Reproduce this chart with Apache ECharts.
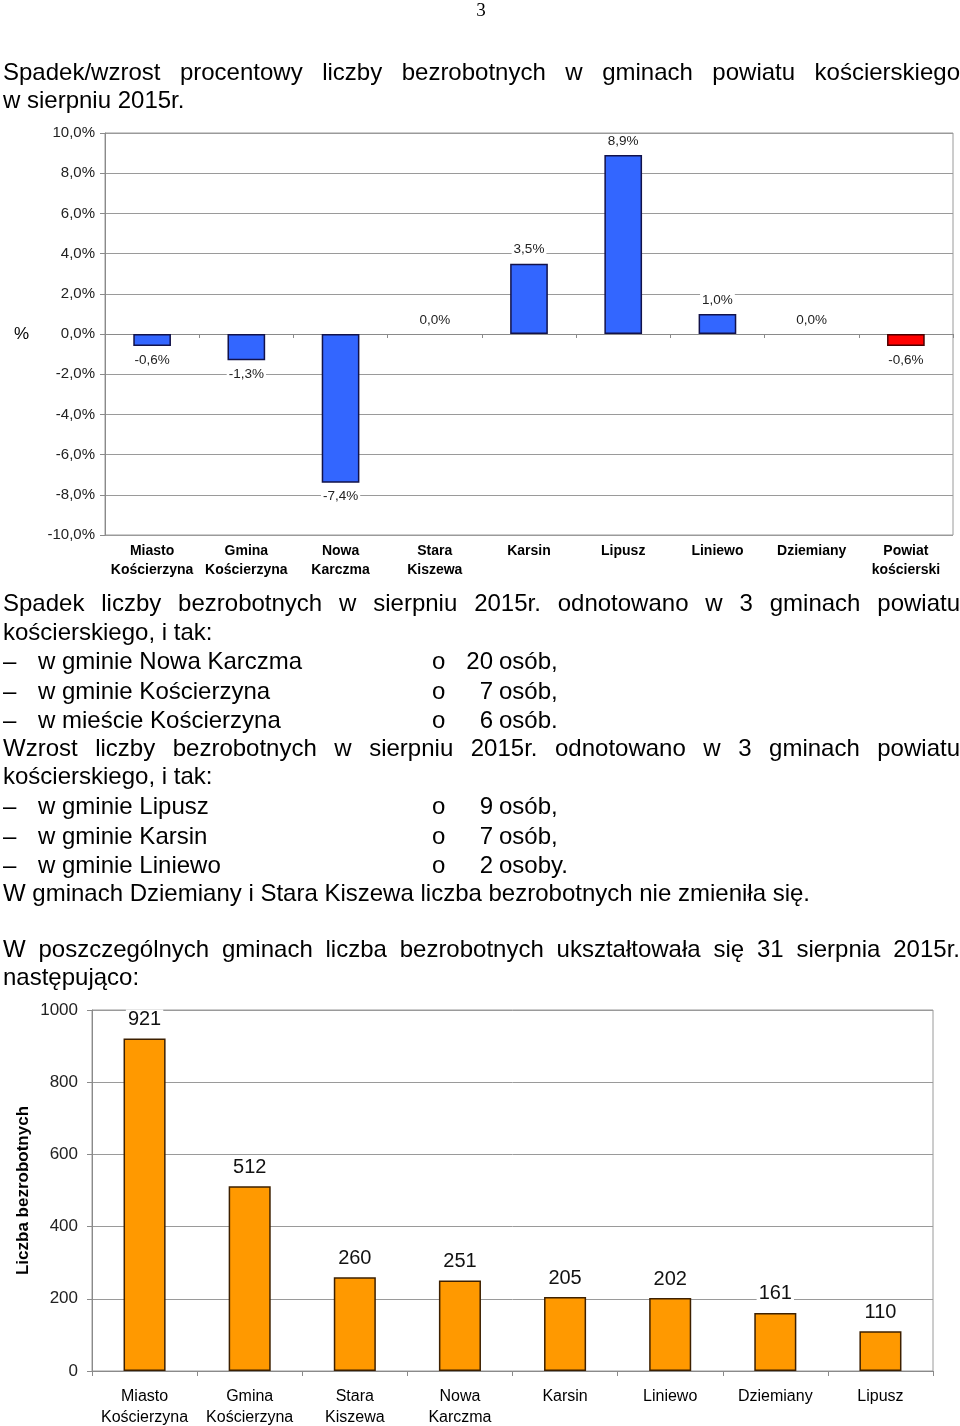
<!DOCTYPE html>
<html><head><meta charset="utf-8">
<script src="https://cdn.jsdelivr.net/npm/echarts@6/dist/echarts.min.js"></script>
<style>
html,body{margin:0;padding:0;background:#fff;}
#page{position:relative;width:960px;height:1426px;overflow:hidden;background:#fff;}
#chart{position:absolute;left:0;top:0;width:960px;height:1426px;}
.t{position:absolute;left:3px;width:957px;height:28px;line-height:28px;font-family:'Liberation Sans',Arial,sans-serif;font-size:24px;color:#000;white-space:nowrap;pointer-events:none;}
.j{text-align:justify;text-align-last:justify;white-space:normal;}
.l{left:0;width:960px;}
.l span{position:absolute;top:0;}
.l .n{left:440px;width:53px;text-align:right;}
.pg{position:absolute;left:470px;width:22px;top:0;height:20px;line-height:20px;text-align:center;font-family:'Liberation Serif','Times New Roman',serif;font-size:19px;color:#000;}
</style></head>
<body>
<div id="page">
<div id="chart"></div>
<div class="pg">3</div>
<div class="t j" style="top:58px">Spadek/wzrost procentowy liczby bezrobotnych w gminach powiatu kościerskiego</div>
<div class="t" style="top:86px">w sierpniu 2015r.</div>

<div class="t j" style="top:589px">Spadek liczby bezrobotnych w sierpniu 2015r. odnotowano w 3 gminach powiatu</div>
<div class="t" style="top:618px">kościerskiego, i tak:</div>
<div class="t l" style="top:647px"><span style="left:3px">–</span><span style="left:38px">w gminie Nowa Karczma</span><span style="left:432px">o</span><span class="n">20</span><span style="left:499px">osób,</span></div>
<div class="t l" style="top:677px"><span style="left:3px">–</span><span style="left:38px">w gminie Kościerzyna</span><span style="left:432px">o</span><span class="n">7</span><span style="left:499px">osób,</span></div>
<div class="t l" style="top:706px"><span style="left:3px">–</span><span style="left:38px">w mieście Kościerzyna</span><span style="left:432px">o</span><span class="n">6</span><span style="left:499px">osób.</span></div>

<div class="t j" style="top:734px">Wzrost liczby bezrobotnych w sierpniu 2015r. odnotowano w 3 gminach powiatu</div>
<div class="t" style="top:762px">kościerskiego, i tak:</div>
<div class="t l" style="top:792px"><span style="left:3px">–</span><span style="left:38px">w gminie Lipusz</span><span style="left:432px">o</span><span class="n">9</span><span style="left:499px">osób,</span></div>
<div class="t l" style="top:822px"><span style="left:3px">–</span><span style="left:38px">w gminie Karsin</span><span style="left:432px">o</span><span class="n">7</span><span style="left:499px">osób,</span></div>
<div class="t l" style="top:851px"><span style="left:3px">–</span><span style="left:38px">w gminie Liniewo</span><span style="left:432px">o</span><span class="n">2</span><span style="left:499px">osoby.</span></div>
<div class="t" style="top:879px">W gminach Dziemiany i Stara Kiszewa liczba bezrobotnych nie zmieniła się.</div>

<div class="t j" style="top:935px">W poszczególnych gminach liczba bezrobotnych ukształtowała się 31 sierpnia 2015r.</div>
<div class="t" style="top:963px">następująco:</div>
</div>
<script>
// ---- Chart 1: percentage change ----
const changeCategories = ['Miasto\nKościerzyna', 'Gmina\nKościerzyna', 'Nowa\nKarczma', 'Stara\nKiszewa', 'Karsin', 'Lipusz', 'Liniewo', 'Dziemiany', 'Powiat\nkościerski'];
const changeValues = [-0.6, -1.3, -7.4, 0.0, 3.5, 8.9, 1.0, 0.0, -0.6];
const changeAxisMin = -10;
const changeAxisMax = 10;
const changeAxisStep = 2;

// ---- Chart 2: number of unemployed on 31 Aug 2015 ----
const countCategories = ['Miasto\nKościerzyna', 'Gmina\nKościerzyna', 'Stara\nKiszewa', 'Nowa\nKarczma', 'Karsin', 'Liniewo', 'Dziemiany', 'Lipusz'];
const countValues = [921, 512, 260, 251, 205, 202, 161, 110];
const countAxisMin = 0;
const countAxisMax = 1000;
const countAxisStep = 200;

const FONT = "'Liberation Sans', Arial, sans-serif";
const GRID_LINE = '#9a9a9a';
const AXIS_LINE = '#8a8a8a';
const fmtPct = v => v.toFixed(1).replace('.', ',') + '%';
const countyIndex = changeCategories.length - 1;

const chart = echarts.init(document.getElementById('chart'), null, {renderer: 'canvas'});

const option = {
  animation: false,
  backgroundColor: 'transparent',
  textStyle: {fontFamily: FONT},
  grid: [
    {left: 105, top: 133, width: 848, height: 402, show: true, borderColor: GRID_LINE, borderWidth: 1, outerBoundsMode: 'none'},
    {left: 92, top: 1010, width: 841, height: 361, show: true, borderColor: GRID_LINE, borderWidth: 1, outerBoundsMode: 'none'}
  ],
  xAxis: [
    {
      gridIndex: 0, type: 'category', data: changeCategories, position: 'bottom',
      axisLine: {show: false, onZero: false}, axisTick: {show: false},
      axisLabel: {interval: 0, fontFamily: FONT, fontSize: 14, fontWeight: 'bold', color: '#000', lineHeight: 19, margin: 7}
    },
    {
      gridIndex: 0, type: 'category', data: changeCategories, position: 'top',
      axisLine: {show: true, onZero: true, lineStyle: {color: AXIS_LINE, width: 1}},
      axisTick: {show: true, inside: true, length: 4, lineStyle: {color: AXIS_LINE}},
      axisLabel: {show: false}, splitLine: {show: false}
    },
    {
      gridIndex: 1, type: 'category', data: countCategories, position: 'bottom',
      axisLine: {show: true, lineStyle: {color: AXIS_LINE, width: 1}},
      axisTick: {show: true, length: 5, lineStyle: {color: AXIS_LINE}},
      axisLabel: {interval: 0, fontFamily: FONT, fontSize: 16, color: '#000', lineHeight: 21, margin: 15}
    }
  ],
  yAxis: [
    {
      gridIndex: 0, type: 'value', min: changeAxisMin, max: changeAxisMax, interval: changeAxisStep,
      name: '%', nameLocation: 'middle', nameRotate: 0, nameGap: 76, nameMoveOverlap: false,
      nameTextStyle: {fontFamily: FONT, fontSize: 17, color: '#000'},
      axisLine: {show: true, lineStyle: {color: AXIS_LINE}},
      axisTick: {show: true, length: 5, lineStyle: {color: AXIS_LINE}},
      axisLabel: {fontFamily: FONT, fontSize: 15, color: '#222', margin: 10, formatter: fmtPct},
      splitLine: {show: true, lineStyle: {color: GRID_LINE, width: 1}}
    },
    {
      gridIndex: 1, type: 'value', min: countAxisMin, max: countAxisMax, interval: countAxisStep,
      name: 'Liczba bezrobotnych', nameLocation: 'middle', nameGap: 60, nameMoveOverlap: false,
      nameTextStyle: {fontFamily: FONT, fontSize: 17, fontWeight: 'bold', color: '#000'},
      axisLine: {show: true, lineStyle: {color: AXIS_LINE}},
      axisTick: {show: true, length: 5, lineStyle: {color: AXIS_LINE}},
      axisLabel: {fontFamily: FONT, fontSize: 17, color: '#222', margin: 14, formatter: v => String(v)},
      splitLine: {show: true, lineStyle: {color: GRID_LINE, width: 1}}
    }
  ],
  series: [
    {
      type: 'bar', xAxisIndex: 0, yAxisIndex: 0, barWidth: '40%',
      itemStyle: {color: '#3366ff', borderColor: '#12124a', borderWidth: 1.5},
      label: {
        show: true, fontFamily: FONT, fontSize: 13.5, color: '#222', distance: 7,
        backgroundColor: '#fff', padding: [0, 2],
        formatter: p => fmtPct(p.value)
      },
      data: changeValues.map((v, i) => ({
        value: v,
        label: {position: v >= 0 ? 'top' : 'bottom'},
        itemStyle: v === 0 ? {borderWidth: 0, color: 'rgba(0,0,0,0)'}
          : (i === countyIndex ? {color: '#ff0000', borderColor: '#4a0000'} : undefined)
      }))
    },
    {
      type: 'bar', xAxisIndex: 2, yAxisIndex: 1, barWidth: '40%',
      itemStyle: {color: '#ff9900', borderColor: '#3d2000', borderWidth: 1.5},
      label: {
        show: true, position: 'top', fontFamily: FONT, fontSize: 20, color: '#111', distance: 9,
        backgroundColor: '#fff', padding: [0, 2]
      },
      data: countValues
    }
  ]
};
chart.setOption(option);
</script>
</body></html>
